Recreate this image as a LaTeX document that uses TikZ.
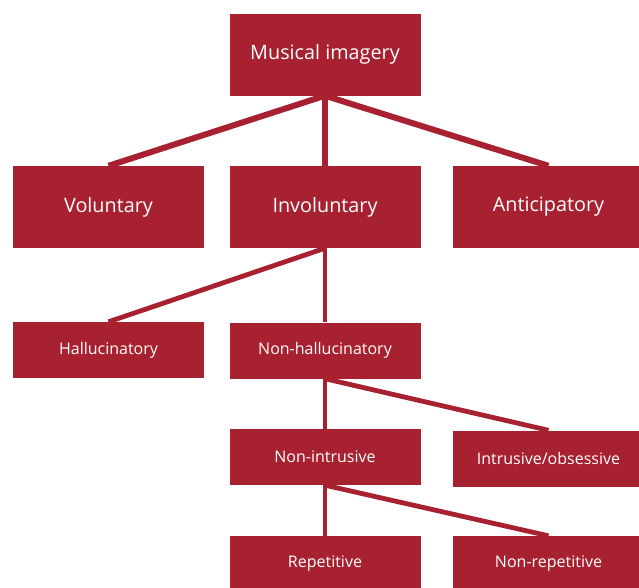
\documentclass[tikz,border=0pt]{standalone}
\usepackage{fontspec}
\setmainfont{Open Sans}
\usetikzlibrary{backgrounds}
\definecolor{imgred}{RGB}{168,33,48}

\begin{document}
\begin{tikzpicture}
    [x=1pt,y=-1pt,
    bigbox/.style={rectangle,fill=imgred,text=white,inner sep=0pt,
    minimum width=191pt,minimum height=82pt,font=\fontsize{19.8}{22}\selectfont},
    smallbox/.style={rectangle,fill=imgred,text=white,inner sep=0pt,
    minimum width=191pt,minimum height=56pt,font=\fontsize{16}{18}\selectfont},
    thickline/.style={draw=imgred,line width=6pt},
    thinline/.style={draw=imgred,line width=4.8pt}]
    \useasboundingbox (0,0) rectangle (639,587);
    \node (musical) [bigbox] at (325,54.5) {Musical imagery};
    \node (voluntary) [bigbox] at (108.5,207) {Voluntary};
    \node (involuntary) [bigbox] at (325,207) {Involuntary};
    \node (anticipatory) [bigbox] at (548.5,207) {Anticipatory};
    \node (hallucinatory) [smallbox] at (108.5,350) {Hallucinatory};
    \node (nonhallucinatory) [smallbox] at (325,350.5) {Non-hallucinatory};
    \node (nonintrusive) [smallbox] at (325,457) {Non-intrusive};
    \node (intrusive) [smallbox] at (548.5,458.5) {Intrusive/obsessive};
    \node (repetitive) [smallbox] at (325,564) {Repetitive};
    \node (nonrepetitive) [smallbox] at (548.5,564) {Non-repetitive};
    \begin{scope}[on background layer]
        \draw [thickline] (musical.south) -- (voluntary.north);
        \draw [thickline] (musical.south) -- (involuntary.north);
        \draw [thickline] (musical.south) -- (anticipatory.north);
        \draw [thinline] (involuntary.south) -- (hallucinatory.north);
        \draw [thinline] (involuntary.south) -- (nonhallucinatory.north);
        \draw [thinline] (nonhallucinatory.south) -- (nonintrusive.north);
        \draw [thinline] (nonhallucinatory.south) -- (intrusive.north);
        \draw [thinline] (nonintrusive.south) -- (repetitive.north);
        \draw [thinline] (nonintrusive.south) -- (nonrepetitive.north);
    \end{scope}
\end{tikzpicture}
\end{document}
